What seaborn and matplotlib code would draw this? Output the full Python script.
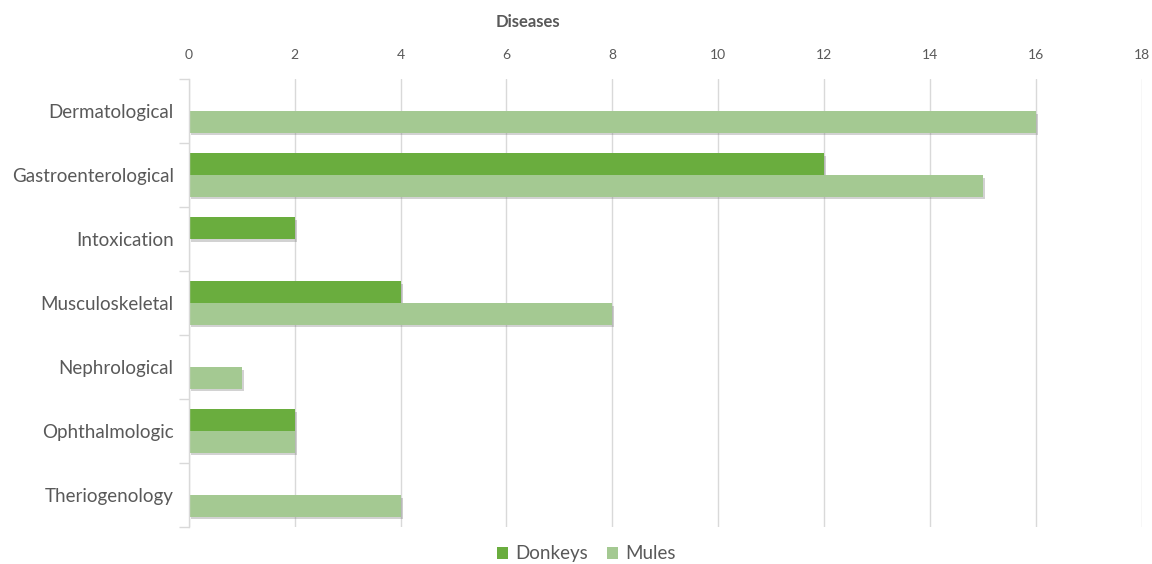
import numpy as np
import pandas as pd
import seaborn as sns
import matplotlib.pyplot as plt
import matplotlib.patheffects as pe
from matplotlib.patches import Patch

categories = ["Dermatological", "Gastroenterological", "Intoxication", "Musculoskeletal",
              "Nephrological", "Ophthalmologic", "Theriogenology"]
donkeys = [0, 12, 2, 4, 0, 2, 0]
mules = [16, 15, 0, 8, 1, 2, 4]
series = ["Donkeys", "Mules"]
x_ticks = [0, 2, 4, 6, 8, 10, 12, 14, 16, 18]

df = pd.DataFrame({
    "Category": categories * 2,
    "Animal": ["Donkeys"] * len(categories) + ["Mules"] * len(categories),
    "Count": donkeys + mules,
})

palette = {"Donkeys": "#6aad3e", "Mules": "#a4c992"}
text_gray = "#595959"
grid_gray = "#d9d9d9"

sns.set_theme(style="white")
plt.rcParams["font.family"] = ["Lato", "DejaVu Sans"]

fig = plt.figure(figsize=(11.52, 5.64), dpi=100)
ax = fig.add_axes([0.164, 0.066, 0.827, 0.794])

sns.barplot(data=df, y="Category", x="Count", hue="Animal", order=categories,
            hue_order=series, palette=palette, orient="h", width=0.68,
            saturation=1, ax=ax, legend=False)

# soft drop shadow under each bar
shadow = [pe.SimplePatchShadow(offset=(1.5, -2), shadow_rgbFace="#808080", alpha=0.35),
          pe.Normal()]
for bar in ax.patches:
    if bar.get_width() > 0:
        bar.set_path_effects(shadow)
        bar.set_edgecolor("none")
    else:
        bar.set_visible(False)

ax.set_xlim(0, 18)
ax.set_ylim(len(categories) - 0.5, -0.5)
ax.xaxis.tick_top()
ax.set_xticks(x_ticks)
ax.set_xticklabels([str(t) for t in x_ticks], fontsize=10, color=text_gray)
ax.tick_params(axis="x", length=0, pad=13)
ax.set_yticks(range(len(categories)))
ax.set_yticklabels(categories, fontsize=13.5, color=text_gray)
ax.tick_params(axis="y", which="major", length=0, pad=11)
ax.set_yticks(np.arange(-0.5, len(categories) + 0.5, 1), minor=True)
ax.tick_params(axis="y", which="minor", left=True, length=7, width=1, color=grid_gray)

ax.grid(axis="x", color=grid_gray, linewidth=1)
ax.set_axisbelow(True)
for side in ["top", "right", "bottom"]:
    ax.spines[side].set_visible(False)
ax.spines["left"].set_color(grid_gray)
ax.spines["left"].set_linewidth(1)
ax.set_xlabel("")
ax.set_ylabel("")

fig.text(0.458, 0.961, "Diseases", ha="center", va="center", fontsize=12,
         fontweight="bold", color=text_gray)

handles = [Patch(facecolor=palette[s], edgecolor="none", label=s) for s in series]
fig.legend(handles=handles, loc="center", bbox_to_anchor=(0.509, 0.018), ncol=2,
           frameon=False, fontsize=13.5, handlelength=0.6, handleheight=0.6,
           handletextpad=0.4, columnspacing=1.0, labelcolor=text_gray)

fig.savefig("out.png", dpi=100)
